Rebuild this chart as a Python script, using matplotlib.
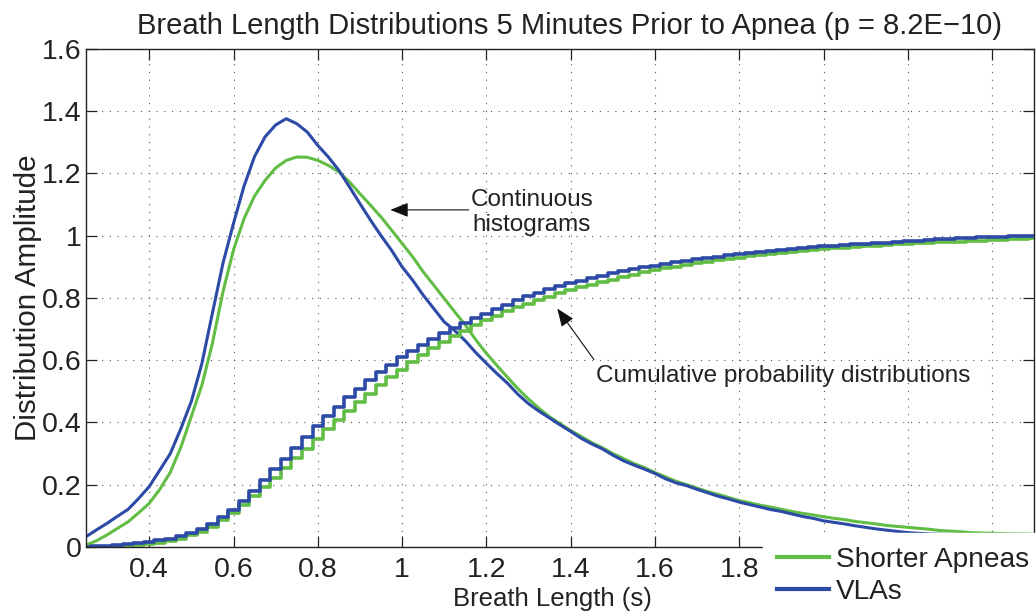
# breath length distributions, shorter apneas vs VLAs
import numpy as np
import matplotlib
matplotlib.use("Agg")
import matplotlib.pyplot as plt
from matplotlib.ticker import FormatStrFormatter

plt.rcParams['font.family'] = ['Liberation Sans', 'DejaVu Sans']

# breath length bins (s), 0.025 s apart
breath_len = np.round(np.arange(0.25, 2.5001, 0.025), 3)

# continuous histograms
short_hist = [0.006, 0.020, 0.039, 0.060, 0.081, 0.110, 0.140, 0.185, 0.240, 0.320,
              0.420, 0.520, 0.655, 0.820, 0.955, 1.055, 1.128, 1.178, 1.218, 1.242,
              1.253, 1.252, 1.242, 1.226, 1.205, 1.173, 1.135, 1.098, 1.060, 1.018,
              0.975, 0.932, 0.884, 0.841, 0.798, 0.755, 0.713, 0.665, 0.622, 0.583,
              0.545, 0.508, 0.475, 0.445, 0.418, 0.396, 0.374, 0.355, 0.335, 0.319,
              0.300, 0.284, 0.268, 0.255, 0.239, 0.225, 0.211, 0.200, 0.189, 0.178,
              0.169, 0.159, 0.149, 0.142, 0.134, 0.128, 0.121, 0.114, 0.108, 0.103,
              0.097, 0.092, 0.088, 0.082, 0.078, 0.074, 0.069, 0.066, 0.063, 0.060,
              0.057, 0.053, 0.051, 0.049, 0.046, 0.045, 0.044, 0.043, 0.042, 0.042,
              0.041]
vla_hist = [0.033, 0.055, 0.076, 0.099, 0.121, 0.156, 0.194, 0.247, 0.300, 0.380,
            0.468, 0.590, 0.752, 0.912, 1.040, 1.160, 1.255, 1.318, 1.356, 1.376,
            1.360, 1.333, 1.290, 1.253, 1.210, 1.157, 1.103, 1.050, 1.000, 0.953,
            0.900, 0.857, 0.809, 0.766, 0.723, 0.695, 0.662, 0.624, 0.590, 0.557,
            0.526, 0.490, 0.460, 0.436, 0.414, 0.392, 0.371, 0.349, 0.331, 0.315,
            0.295, 0.277, 0.263, 0.250, 0.236, 0.219, 0.206, 0.197, 0.185, 0.174,
            0.163, 0.154, 0.144, 0.136, 0.128, 0.120, 0.114, 0.106, 0.098, 0.092,
            0.084, 0.079, 0.074, 0.068, 0.063, 0.058, 0.054, 0.050, 0.046, 0.044,
            0.042, 0.041, 0.040]

# cumulative probability distributions
short_cdf = [0.000, 0.000, 0.001, 0.002, 0.004, 0.006, 0.009, 0.013, 0.019, 0.027,
             0.037, 0.049, 0.064, 0.086, 0.110, 0.136, 0.164, 0.193, 0.223, 0.254,
             0.285, 0.316, 0.347, 0.378, 0.408, 0.437, 0.465, 0.493, 0.519, 0.545,
             0.570, 0.594, 0.617, 0.638, 0.658, 0.677, 0.695, 0.712, 0.728, 0.743,
             0.757, 0.770, 0.782, 0.793, 0.804, 0.815, 0.826, 0.835, 0.843, 0.851,
             0.859, 0.866, 0.873, 0.882, 0.889, 0.896, 0.901, 0.906, 0.911, 0.916,
             0.921, 0.925, 0.930, 0.934, 0.938, 0.941, 0.945, 0.948, 0.951, 0.954,
             0.957, 0.959, 0.962, 0.964, 0.966, 0.968, 0.970, 0.972, 0.974, 0.976,
             0.977, 0.979, 0.980, 0.981, 0.982, 0.983, 0.985, 0.987, 0.989, 0.991,
             0.993]
vla_cdf = [0.000, 0.002, 0.004, 0.006, 0.009, 0.012, 0.016, 0.021, 0.027, 0.035,
           0.045, 0.058, 0.074, 0.095, 0.120, 0.148, 0.180, 0.214, 0.249, 0.284,
           0.319, 0.354, 0.388, 0.420, 0.451, 0.481, 0.509, 0.536, 0.562, 0.586,
           0.609, 0.630, 0.650, 0.669, 0.687, 0.704, 0.720, 0.735, 0.750, 0.765,
           0.779, 0.792, 0.805, 0.817, 0.828, 0.838, 0.847, 0.856, 0.864, 0.872,
           0.879, 0.886, 0.892, 0.898, 0.904, 0.910, 0.915, 0.920, 0.925, 0.929,
           0.933, 0.937, 0.941, 0.945, 0.948, 0.951, 0.954, 0.957, 0.960, 0.963,
           0.966, 0.968, 0.970, 0.972, 0.974, 0.976, 0.978, 0.980, 0.982, 0.984,
           0.986, 0.988, 0.990, 0.992, 0.994, 0.995, 0.996, 0.997, 0.998, 0.999,
           1.000]

# tick labels past 1.8 sit under the legend in the original, so they stay blank
x_ticks = [0.4, 0.6, 0.8, 1.0, 1.2, 1.4, 1.6, 1.8, 2.0, 2.2, 2.4]
x_tick_labels = ['0.4', '0.6', '0.8', '1', '1.2', '1.4', '1.6', '1.8', '', '', '']
y_ticks = [0, 0.2, 0.4, 0.6, 0.8, 1.0, 1.2, 1.4, 1.6]

green = '#62bd45'
blue = '#2c4aa6'
ink = '#222222'


def main():
    fig = plt.figure(figsize=(10.36, 6.13), dpi=100)
    ax = fig.add_axes([0.083, 0.1077, 0.9155, 0.8124])

    ax.plot(breath_len, short_hist, color=green, lw=2.2, label='Shorter Apneas')
    ax.plot(breath_len[:len(vla_hist)], vla_hist, color=blue, lw=2.2, label='VLAs')
    ax.plot(breath_len, short_cdf, color=green, lw=2.6, drawstyle='steps-mid')
    ax.plot(breath_len, vla_cdf, color=blue, lw=2.6, drawstyle='steps-mid')

    ax.set_xlim(0.25, 2.5)
    ax.set_ylim(0, 1.6)
    ax.set_xticks(x_ticks)
    ax.set_xticklabels(x_tick_labels)
    ax.set_yticks(y_ticks)
    ax.yaxis.set_major_formatter(FormatStrFormatter('%g'))
    ax.tick_params(direction='in', top=True, right=True, length=8, width=0.9,
                   labelsize=20.5, colors=ink)
    ax.tick_params(axis='x', pad=7)
    ax.tick_params(axis='y', pad=3)
    for s in ax.spines.values():
        s.set_linewidth(1.0)
        s.set_color(ink)
    ax.grid(True, color='0.35', lw=0.8, linestyle=(0, (1, 6)))

    ax.set_title('Breath Length Distributions 5 Minutes Prior to Apnea (p = 8.2E\u221210)',
                 fontsize=21, pad=11, x=0.51, color=ink)
    ax.set_xlabel('Breath Length (s)', fontsize=18.5, color=ink)
    ax.xaxis.set_label_coords(0.4916, -0.080)
    ax.set_ylabel('Distribution Amplitude', fontsize=21.3, color=ink)
    ax.yaxis.set_label_coords(-0.046, 0.5)

    # annotations
    arrow = dict(arrowstyle='-|>,head_length=0.55,head_width=0.22', color='#111111',
                 lw=0.8, mutation_scale=20, shrinkA=0, shrinkB=0)
    ax.annotate('', xy=(0.972, 1.083), xytext=(1.158, 1.083), arrowprops=arrow)
    ax.text(1.308, 1.095, 'Continuous', ha='center', va='baseline', fontsize=17.5, color=ink)
    ax.text(1.308, 1.014, 'histograms', ha='center', va='baseline', fontsize=17.5, color=ink)
    ax.annotate('', xy=(1.368, 0.766), xytext=(1.455, 0.602), arrowprops=arrow)
    ax.text(1.459, 0.531, 'Cumulative probability distributions', ha='left', va='baseline',
            fontsize=17.5, color=ink)

    leg = ax.legend(loc='upper left', bbox_to_anchor=(0.714, 0.028), borderaxespad=0,
                    fontsize=20.2, frameon=True, fancybox=False, framealpha=1,
                    facecolor='white', edgecolor='white', handlelength=1.83,
                    handletextpad=0.25, labelspacing=0.22, borderpad=0.5)
    for line in leg.get_lines():
        line.set_linewidth(3)
    for t in leg.get_texts():
        t.set_color(ink)

    fig.savefig('out.png', dpi=100)


if __name__ == "__main__":
    main()
